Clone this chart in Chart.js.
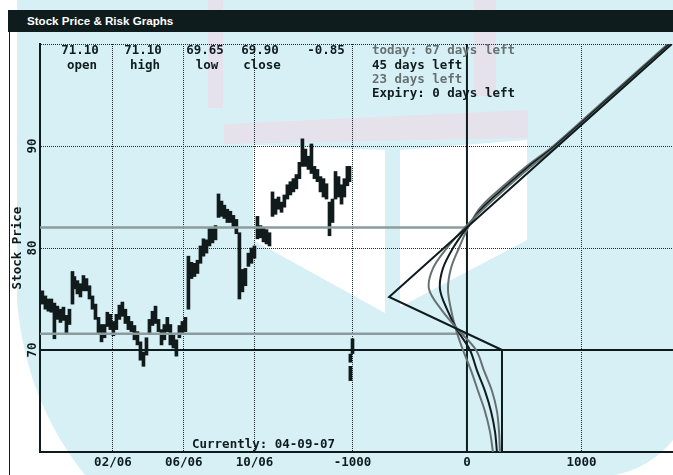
<!DOCTYPE html>
<html>
<head>
<meta charset="utf-8">
<script src="https://cdn.jsdelivr.net/npm/chart.js@4.4.0/dist/chart.umd.min.js"></script>
<style>
  html, body { margin: 0; padding: 0; background: #fff; }
  #wrap { position: relative; width: 673px; height: 475px; overflow: hidden; }
  #chart { position: absolute; left: 0; top: 0; }
  #bar {
    position: absolute; left: 8px; top: 10px; width: 665px; height: 22px;
    background: #0f1c1e; color: #fff; box-sizing: border-box; padding-left: 19px;
    font: bold 11.6px "Liberation Sans", sans-serif; line-height: 22px;
  }
</style>
</head>
<body>
<div id="wrap">
  <canvas id="chart" width="673" height="475"></canvas>
  <div id="bar">Stock Price &amp; Risk Graphs</div>
</div>
<script>
// axis ticks
const dateTicks = [1, 5, 9];                 // months from Jan 2006
const dateLabels = ['02/06', '06/06', '10/06'];
const riskTicks = [-1000, 0, 1000];
const priceTicks = [70, 80, 90];

// price bars (date in months from Jan 2006, low, high)
const barDates = [-3.07, -2.90, -2.73, -2.56, -2.39, -2.22, -2.05, -1.88, -1.71, -1.54,
  -1.37, -1.26, -1.09, -0.92, -0.75, -0.58, -0.41, -0.24, -0.07, 0.10,
  0.27, 0.44, 0.60, 0.77, 0.94, 1.11, 1.28, 1.45, 1.62, 1.79,
  1.96, 2.13, 2.30, 2.47, 2.64, 2.81, 2.98, 3.15, 3.32, 3.49,
  3.66, 3.82, 3.99, 4.16, 4.33, 4.50, 4.67, 4.84, 5.01, 5.18,
  5.35, 5.52, 5.69, 5.86, 6.03, 6.20, 6.37, 6.54, 6.71, 6.88,
  7.05, 7.21, 7.38, 7.55, 7.72, 7.89, 8.06, 8.23, 8.40, 8.57,
  8.74, 8.91, 9.08, 9.25, 9.42, 9.59, 9.76, 9.93, 10.10, 10.27,
  10.44, 10.60, 10.77, 10.94, 11.11, 11.28, 11.45, 11.62, 11.79, 11.96,
  12.13, 12.30, 12.47, 12.64, 12.81, 12.98, 13.15, 13.32, 13.49, 13.66,
  13.83, 13.99, 14.16, 14.28, 14.33, 14.33, 14.45];
const barLows = [74.5, 74.0, 73.8, 73.7, 71.1, 73.0, 72.7, 72.9, 71.6, 72.5,
  74.5, 76.0, 75.5, 75.2, 75.8, 75.8, 75.0, 74.0, 73.0, 71.5,
  70.8, 71.2, 72.3, 72.0, 71.4, 72.0, 73.0, 73.3, 72.6, 72.0,
  71.8, 71.0, 70.5, 69.0, 68.4, 69.5, 71.5, 72.4, 72.6, 71.8,
  70.5, 71.0, 71.8, 70.5, 70.2, 69.4, 71.2, 71.5, 71.8, 74.0,
  77.0, 77.2, 77.5, 78.5, 79.2, 79.5, 80.2, 80.5, 80.8, 83.0,
  83.1, 82.9, 82.5, 82.5, 82.0, 81.4, 75.0, 75.7, 76.3, 78.2,
  78.5, 79.0, 80.9, 81.0, 80.6, 80.4, 80.2, 83.1, 83.3, 83.8,
  83.5, 84.0, 84.8, 85.2, 85.5, 85.8, 86.8, 88.0, 88.0, 87.7,
  87.3, 86.8, 86.5, 85.5, 85.0, 84.8, 81.2, 82.5, 84.8, 85.0,
  84.3, 85.0, 86.1, 86.5, 67.0, 68.8, 69.65];
const barHighs = [75.8, 75.3, 75.0, 75.0, 74.6, 74.3, 74.0, 74.2, 73.4, 74.0,
  77.7, 77.2, 76.8, 76.5, 77.3, 77.0, 76.3, 75.3, 74.5, 73.2,
  72.5, 72.5, 73.7, 73.5, 72.8, 73.5, 74.4, 74.7, 74.0, 73.3,
  72.8, 72.4, 71.8, 70.8, 69.8, 71.2, 73.0, 73.8, 74.3, 73.0,
  72.0, 72.5, 73.2, 72.5, 71.5, 71.0, 72.4, 72.8, 73.2, 79.2,
  78.6, 78.5, 78.8, 80.2, 80.9, 80.8, 81.9, 81.9, 82.2, 85.3,
  84.6, 84.2, 83.8, 83.6, 83.2, 82.8, 81.5, 77.9, 78.0, 79.5,
  80.0, 80.2, 83.1, 82.2, 82.0, 81.8, 81.5, 85.5, 84.8, 85.0,
  84.5, 85.2, 86.2, 86.5, 86.8, 87.2, 88.4, 90.7, 89.7, 89.0,
  90.2, 88.0, 87.7, 87.0, 86.8, 86.3, 84.5, 84.8, 87.5, 87.0,
  86.2, 86.8, 88.0, 88.0, 68.4, 69.6, 71.1];

// risk graph: profit/loss at each stock price
const curvePrices = [60, 62, 64, 66, 68, 70, 72, 74, 76, 78, 80, 82, 84, 86, 88, 90, 95, 100];
const pl67 = [227, 201, 157, 96, 35, -35, -96, -140, -166, -140, -70, 10, 120, 310, 520, 755, 1255, 1755];
const pl45 = [262, 245, 210, 157, 87, 26, -87, -175, -236, -210, -122, 0, 140, 335, 540, 770, 1270, 1770];
const pl23 = [288, 280, 262, 218, 148, 79, -79, -227, -332, -297, -175, -20, 160, 355, 560, 785, 1285, 1785];
const expiryPrices = [60, 70, 75.2, 100];
const expiryPL = [306, 306, -680, 1790];
const strike = 70;
const breakevens = [71.6, 82.0];

// header texts
const quoteValues = ['71.10', '71.10', '69.65', '69.90', '-0.85'];
const quoteNames = ['open', 'high', 'low', 'close', ''];
const curveNames = ['today: 67 days left', '45 days left', '23 days left', 'Expiry: 0 days left'];
const currentDate = '04-09-07';

const riskMin = -3730, riskMax = 1800;
const dateMin = -3.12, dateMax = 32.64;
const priceMin = 60, priceMax = 100;

const INK = '#0f1c1e';
const GREY = '#687172';
const MONO = '"DejaVu Sans Mono", monospace';

function pts(xs, ys) {
  return xs.map((v, i) => ({ x: v, y: ys[i] }));
}

const watermark = {
  id: 'watermark',
  beforeDraw(chart) {
    const c = chart.ctx;
    c.save();
    c.fillStyle = '#ffffff';
    c.fillRect(0, 0, chart.width, chart.height);
    // light blue disc
    c.fillStyle = '#d7f0f6';
    c.beginPath();
    c.moveTo(17, 0);
    c.lineTo(673, 0);
    c.lineTo(673, 440);
    c.quadraticCurveTo(650, 468, 615, 475);
    c.lineTo(85, 475);
    c.quadraticCurveTo(25, 400, 17, 300);
    c.closePath();
    c.fill();
    // faint logo pieces
    c.fillStyle = '#e6e2ec';
    c.fillRect(208, 0, 15, 108);
    c.fillRect(474, 0, 22, 96);
    c.beginPath();
    c.moveTo(224, 124); c.lineTo(528, 110); c.lineTo(528, 138); c.lineTo(224, 144);
    c.closePath(); c.fill();
    // white open book pages
    c.fillStyle = '#ffffff';
    c.beginPath();
    c.moveTo(253, 145); c.lineTo(385, 150); c.lineTo(385, 313); c.lineTo(253, 240);
    c.closePath(); c.fill();
    c.beginPath();
    c.moveTo(400, 150); c.lineTo(527, 140); c.lineTo(527, 240); c.lineTo(400, 307);
    c.closePath(); c.fill();
    // panel edge
    c.fillStyle = INK;
    c.fillRect(9, 32, 1, 443);
    c.restore();
  },
  afterDraw(chart) {
    const c = chart.ctx;
    c.save();
    c.font = 'bold 12.5px ' + MONO;
    c.textBaseline = 'middle';
    c.fillStyle = INK;
    c.textAlign = 'center';
    const qx = [80, 143, 205, 260, 326];
    quoteValues.forEach((v, i) => {
      c.fillText(v, qx[i], 51);
      if (quoteNames[i]) c.fillText(quoteNames[i], qx[i] + 2, 66);
    });
    c.textAlign = 'left';
    const cols = [GREY, INK, GREY, INK];
    curveNames.forEach((t, i) => {
      c.fillStyle = cols[i];
      c.fillText(t, 372, 51 + i * 14.3);
    });
    c.fillStyle = INK;
    c.fillText('Currently: ' + currentDate, 192, 445);
    c.restore();
  }
};

const lineStyle = { type: 'line', xAxisID: 'xr', yAxisID: 'y', pointRadius: 0, fill: false };

new Chart(document.getElementById('chart'), {
  type: 'bar',
  data: {
    datasets: [
      Object.assign({}, lineStyle, { label: curveNames[3], data: pts(expiryPL, expiryPrices), borderColor: INK, borderWidth: 2, order: 1 }),
      Object.assign({}, lineStyle, { label: curveNames[2], data: pts(pl23, curvePrices), borderColor: GREY, borderWidth: 2, tension: 0.35, order: 2 }),
      Object.assign({}, lineStyle, { label: curveNames[1], data: pts(pl45, curvePrices), borderColor: INK, borderWidth: 2, tension: 0.35, order: 3 }),
      Object.assign({}, lineStyle, { label: curveNames[0], data: pts(pl67, curvePrices), borderColor: GREY, borderWidth: 2, tension: 0.35, order: 4 }),
      Object.assign({}, lineStyle, { label: 'zero', data: [{ x: 0, y: priceMin }, { x: 0, y: priceMax }], borderColor: INK, borderWidth: 2, order: 5 }),
      Object.assign({}, lineStyle, { label: 'strike', data: [{ x: riskMin, y: strike }, { x: riskMax, y: strike }], borderColor: INK, borderWidth: 2, order: 6 }),
      Object.assign({}, lineStyle, { label: 'be1', data: [{ x: riskMin, y: breakevens[0] }, { x: 0, y: breakevens[0] }], borderColor: '#8c9b9d', borderWidth: 2.5, order: 7 }),
      Object.assign({}, lineStyle, { label: 'be2', data: [{ x: riskMin, y: breakevens[1] }, { x: 0, y: breakevens[1] }], borderColor: '#8c9b9d', borderWidth: 2.5, order: 8 }),
      {
        type: 'bar', label: 'price', xAxisID: 'x', yAxisID: 'y',
        data: barDates.map((d, i) => ({ x: d, y: [barLows[i], barHighs[i]] })),
        backgroundColor: '#111b1c', borderWidth: 0, barThickness: 3, order: 10
      }
    ]
  },
  options: {
    responsive: false,
    animation: false,
    layout: { padding: { top: 44, right: 0, left: 0, bottom: 0 } },
    plugins: { legend: { display: false }, tooltip: { enabled: false } },
    scales: {
      x: {
        type: 'linear', position: { y: priceMin }, min: dateMin, max: dateMax, offset: false,
        afterBuildTicks: (s) => { s.ticks = dateTicks.map((v) => ({ value: v })); },
        afterFit: (s) => { s.height = 0; },
        ticks: {
          callback: (v) => dateLabels[dateTicks.indexOf(v)],
          font: { family: MONO, size: 12.5, weight: 'bold' }, color: INK,
          padding: 3, maxRotation: 0, autoSkip: false
        },
        grid: { color: '#1e2a2c', lineWidth: 1, drawTicks: false, offset: false },
        border: { display: false, dash: [1, 1] }
      },
      xr: {
        type: 'linear', position: 'bottom', min: riskMin, max: riskMax, offset: false,
        afterBuildTicks: (s) => { s.ticks = riskTicks.map((v) => ({ value: v })); },
        afterFit: (s) => { s.height = 23; },
        ticks: {
          callback: (v) => String(v),
          font: { family: MONO, size: 12.5, weight: 'bold' }, color: INK,
          padding: 3, maxRotation: 0, autoSkip: false
        },
        grid: { color: (ctx) => (ctx.tick && ctx.tick.value === 0 ? 'rgba(0,0,0,0)' : '#1e2a2c'), lineWidth: 1, drawTicks: false, offset: false },
        border: { display: true, color: INK, width: 2, dash: [1, 1] }
      },
      y: {
        type: 'linear', position: 'left', min: priceMin, max: priceMax,
        afterBuildTicks: (s) => { s.ticks = [60, 70, 80, 90, 100].map((v) => ({ value: v })); },
        afterFit: (s) => { s.width = 40; },
        ticks: {
          callback: (v) => (priceTicks.includes(v) ? String(v) : ''),
          font: { family: MONO, size: 12.5, weight: 'bold' }, color: INK,
          padding: 0, minRotation: 90, maxRotation: 90, crossAlign: 'center'
        },
        grid: {
          color: (ctx) => (ctx.tick && (ctx.tick.value === 80 || ctx.tick.value === 90 || ctx.tick.value === 100) ? '#1e2a2c' : 'rgba(0,0,0,0)'),
          lineWidth: 1, drawTicks: false
        },
        border: { display: true, color: INK, width: 2, dash: [1, 1] },
        title: {
          display: true, text: 'Stock Price', color: INK,
          font: { family: MONO, size: 12.5, weight: 'bold' }, padding: { top: 10, bottom: 0 }
        }
      }
    }
  },
  plugins: [watermark]
});
</script>
</body>
</html>
